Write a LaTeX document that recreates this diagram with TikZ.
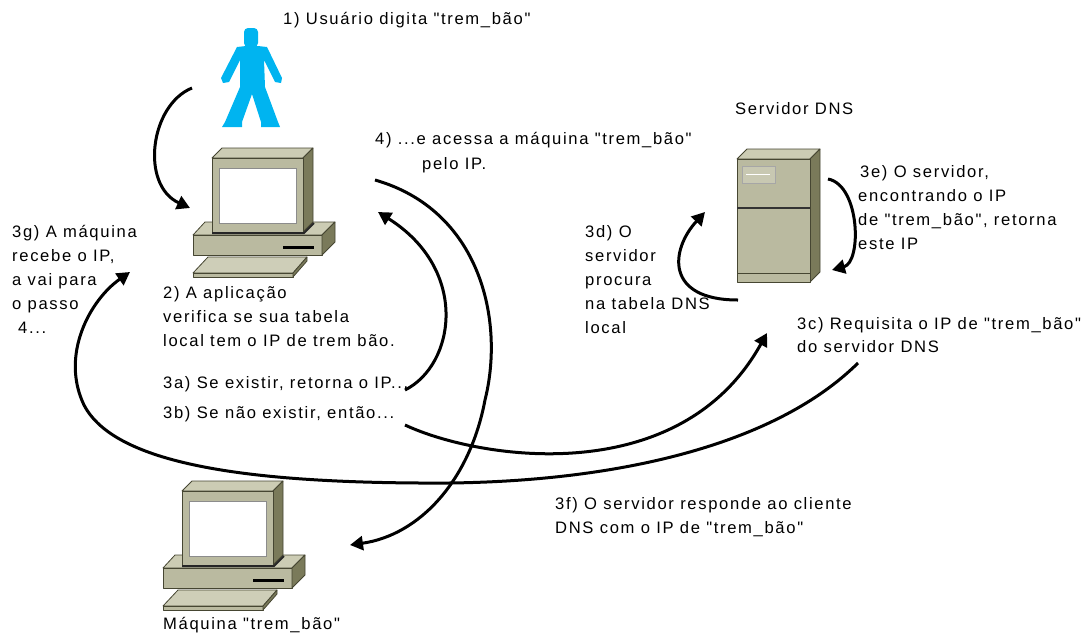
\documentclass[tikz,border=0pt]{standalone}
\usepackage{fontspec}
\newfontfamily\lblfont{Liberation Sans}[LetterSpace=10]
\usetikzlibrary{arrows.meta}

\definecolor{userblue}{RGB}{0,180,240}
\definecolor{hwfront}{RGB}{186,186,160}
\definecolor{hwtop}{RGB}{204,204,180}
\definecolor{hwside}{RGB}{122,122,90}
\definecolor{hwedge}{RGB}{70,70,50}
\definecolor{hwkey}{RGB}{206,206,184}
\definecolor{hwpanel}{RGB}{200,200,178}

\tikzset{
  lbl/.style={font=\lblfont\fontsize{16.6}{20}\selectfont, inner sep=0pt, anchor=base west, text=black},
  flow/.style={line width=3pt, -{Triangle[length=13pt,width=14pt]}},
  plain/.style={line width=3pt},
  hw/.style={draw=hwedge, line width=0.8pt, line join=round},
  pics/pc/.style={code={
    % base unit
    \filldraw[hw, fill=hwtop]   (0,87) -- (12,74) -- (142,74) -- (129,87) -- cycle;
    \filldraw[hw, fill=hwfront] (0,87) rectangle (129,107);
    \filldraw[hw, fill=hwside]  (129,87) -- (142,74) -- (142,94) -- (129,107) -- cycle;
    \draw[line width=3pt, black] (90,99) -- (121,99);
    % monitor
    \filldraw[hw, fill=hwtop]   (19,10) -- (29,0) -- (120,0) -- (110,10) -- cycle;
    \filldraw[hw, fill=hwside]  (110,10) -- (120,0) -- (120,74) -- (110,84) -- cycle;
    \filldraw[hw, fill=hwfront] (19,10) rectangle (110,84);
    \draw[line width=2pt, black!85] (19,85) -- (111,85) -- (121,75);
    \filldraw[fill=white, draw=black!45, line width=1pt] (26,20) rectangle (103,75);
    % keyboard
    \filldraw[hw, fill=hwkey]   (0,125) -- (15,109) -- (114,109) -- (100,125) -- cycle;
    \filldraw[hw, fill=hwfront] (0,125) rectangle (100,129);
    \filldraw[hw, fill=hwside]  (100,125) -- (114,109) -- (114,113) -- (100,129) -- cycle;
  }}
}

\begin{document}
\begin{tikzpicture}[x=1pt, y=-1pt]
\useasboundingbox (0,0) rectangle (1082,633);

% user figure
\fill[userblue, rounded corners=4pt] (244,28) rectangle (258,47);
\fill[userblue, line join=round]
  (246,46) -- (237,47) -- (221,78) -- (223,83) -- (229,82) -- (240,60)
  -- (240,87) -- (225,122) -- (222,127) -- (242,127) -- (242,122)
  -- (252,94) -- (261,122) -- (261,127) -- (280,127) -- (278,122)
  -- (265,87) -- (264,60) -- (275,82) -- (281,83) -- (282,78)
  -- (267,47) -- (258,46) -- cycle;

% client and target machines
\pic (client) at (193,148) {pc};
\pic (target) at (163,481) {pc};

% DNS server
\filldraw[hw, fill=hwtop]   (737,159) -- (747,149) -- (820,149) -- (810,159) -- cycle;
\filldraw[hw, fill=hwside]  (810,159) -- (820,149) -- (820,272) -- (810,282) -- cycle;
\filldraw[hw, fill=hwfront] (737,159) rectangle (810,282);
\draw[line width=2.5pt, black!80] (737,208) -- (810,208);
\draw[hw] (737,273) -- (810,273);
\filldraw[fill=hwpanel, draw=black!35, line width=0.8pt] (742,166) rectangle (775,183);
\draw[white, line width=0.8pt] (746,174) -- (770,174);

% labels
\node[lbl] (t1)  at (283,24)  {1) Usuário digita "trem\_bão"};
\node[lbl] (t4a) at (375,144) {4) ...e acessa a máquina "trem\_bão"};
\node[lbl] (t4b) at (422,169) {pelo IP.};
\node[lbl] (tsrv) at (735,114) {Servidor DNS};
\node[lbl] (t3ea) at (860,177) {3e) O servidor,};
\node[lbl] (t3eb) at (858,201) {encontrando o IP};
\node[lbl] (t3ec) at (858,225) {de "trem\_bão", retorna};
\node[lbl] (t3ed) at (858,249) {este IP};
\node[lbl] (t3da) at (585,237) {3d) O};
\node[lbl] (t3db) at (585,261) {servidor};
\node[lbl] (t3dc) at (585,285) {procura};
\node[lbl] (t3dd) at (585,309) {na tabela DNS};
\node[lbl] (t3de) at (585,333) {local};
\node[lbl] (t3ga) at (12,237) {3g) A máquina};
\node[lbl] (t3gb) at (12,261) {recebe o IP,};
\node[lbl] (t3gc) at (12,285) {a vai para};
\node[lbl] (t3gd) at (12,309) {o passo};
\node[lbl] (t3ge) at (18,333) {4...};
\node[lbl] (t2a) at (163,298) {2) A aplicação};
\node[lbl] (t2b) at (163,322) {verifica se sua tabela};
\node[lbl] (t2c) at (163,346) {local tem o IP de trem bão.};
\node[lbl] (t3a) at (163,388) {3a) Se existir, retorna o IP...};
\node[lbl] (t3b) at (163,418) {3b) Se não existir, então...};
\node[lbl] (t3ca) at (797,329) {3c) Requisita o IP de "trem\_bão"};
\node[lbl] (t3cb) at (797,352) {do servidor DNS};
\node[lbl] (t3fa) at (555,509) {3f) O servidor responde ao cliente};
\node[lbl] (t3fb) at (555,533) {DNS com o IP de "trem\_bão"};
\node[lbl] (tmq) at (163,629) {Máquina "trem\_bão"};

% connector end points
\coordinate (uS) at (192,88);   \coordinate (uE) at (190,208);
\coordinate (aS) at (375,180);  \coordinate (aM) at (485,400); \coordinate (aE) at (350,545);
\coordinate (rS) at (405,390);  \coordinate (rE) at (378,212);
\coordinate (qS) at (405,425);  \coordinate (qE) at (767,333);
\coordinate (fS) at (858,363);  \coordinate (fM) at (420,483); \coordinate (fN) at (84,405); \coordinate (fE) at (130,272);
\coordinate (dS) at (738,300);  \coordinate (dE) at (705,212);
\coordinate (eS) at (828,179);  \coordinate (eE) at (832,270);

% connectors
\draw[flow] (uS) .. controls (150,105) and (140,185) .. (uE);
\draw[flow] (aS) .. controls (480,210) and (505,320) .. (aM)
                 .. controls (470,480) and (420,535) .. (aE);
\draw[flow] (rS) .. controls (455,365) and (470,270) .. (rE);
\draw[flow] (qS) .. controls (480,460) and (680,490) .. (qE);
\draw[flow] (fS) .. controls (770,450) and (600,485) .. (fM)
                 .. controls (250,482) and (115,465) .. (fN)
                 .. controls (60,355) and (90,300) .. (fE);
\draw[flow] (dS) .. controls (665,300) and (670,250) .. (dE);
\draw[flow] (eS) .. controls (860,185) and (862,262) .. (eE);
\end{tikzpicture}
\end{document}
